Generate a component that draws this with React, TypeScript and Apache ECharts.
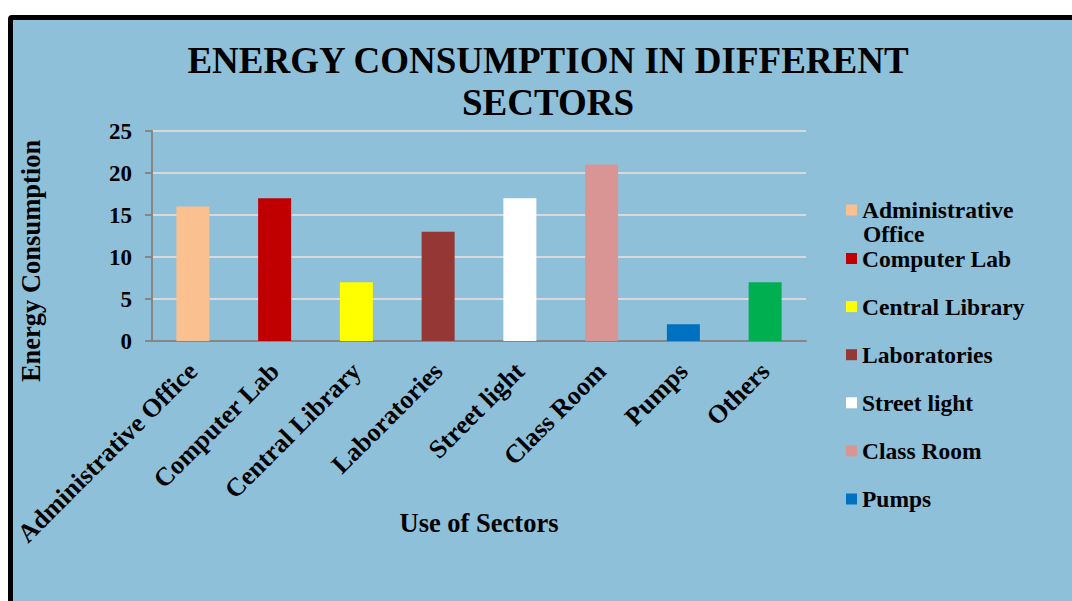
import React, { useEffect, useRef } from "react";
import * as echarts from "echarts";

const TITLE = "ENERGY CONSUMPTION IN DIFFERENT\nSECTORS";
const CATEGORIES = [
  "Administrative Office",
  "Computer Lab",
  "Central Library",
  "Laboratories",
  "Street light",
  "Class Room",
  "Pumps",
  "Others",
];
const VALUES = [16, 17, 7, 13, 17, 21, 2, 7];
const COLORS = ["#FAC090", "#C00000", "#FFFF00", "#953735", "#FFFFFF", "#D99594", "#0070C0", "#00B050"];
const LEGEND_NAMES = CATEGORIES.slice(0, 7);
const Y_MIN = 0;
const Y_MAX = 25;
const Y_STEP = 5;
const X_NAME = "Use of Sectors";
const Y_NAME = "Energy Consumption";

const FONT = "'Liberation Serif', 'Times New Roman', serif";

export default function App() {
  const ref = useRef<HTMLDivElement>(null);
  useEffect(() => {
    if (!ref.current) return;
    const chart = echarts.init(ref.current, undefined, { renderer: "svg" });
    const series = CATEGORIES.map((name, i) => ({
      name,
      type: "bar",
      stack: "all",
      barWidth: 33,
      itemStyle: { color: COLORS[i] },
      data: CATEGORIES.map((_, j) => (j === i ? VALUES[i] : "-")),
    }));
    const legendText = { fontFamily: FONT, fontWeight: "bold", fontSize: 23.5, lineHeight: 20, color: "#000" };
    chart.setOption({
      animation: false,
      legend: [
        {
          data: [LEGEND_NAMES[0]],
          orient: "vertical",
          left: 846,
          top: 198,
          padding: 0,
          itemWidth: 11,
          itemHeight: 11,
          selectedMode: false,
          icon: "rect",
          formatter: () => "Administrative",
          textStyle: legendText,
        },
        {
          data: LEGEND_NAMES.slice(1),
          orient: "vertical",
          left: 846,
          top: 246.5,
          padding: 0,
          itemGap: 24.1,
          itemWidth: 11,
          itemHeight: 11,
          selectedMode: false,
          icon: "rect",
          textStyle: legendText,
        },
      ],
      graphic: [
        {
          type: "text",
          x: 548,
          y: 39,
          style: {
            text: TITLE,
            font: `bold 37px ${FONT}`,
            lineHeight: 42,
            fill: "#000",
            align: "center",
            verticalAlign: "top",
          },
          z: 10,
        },
        {
          type: "text",
          x: 863,
          y: 234,
          style: {
            text: "Office",
            font: `bold 23.5px ${FONT}`,
            fill: "#000",
            verticalAlign: "middle",
            align: "left",
          },
        },
      ],
      grid: { left: 152, top: 131, right: 266, bottom: 260, containLabel: false },
      xAxis: {
        type: "category",
        data: CATEGORIES,
        name: X_NAME,
        nameLocation: "middle",
        nameGap: 168,
        nameMoveOverlap: false,
        nameTextStyle: { fontFamily: FONT, fontWeight: "bold", fontSize: 26.5, color: "#000" },
        axisLine: { show: true, lineStyle: { color: "#868686", width: 2 } },
        axisTick: { show: false },
        axisLabel: {
          interval: 0,
          rotate: 45,
          margin: 26,
          fontFamily: FONT,
          fontWeight: "bold",
          fontSize: 26,
          color: "#000",
        },
      },
      yAxis: {
        type: "value",
        min: Y_MIN,
        max: Y_MAX,
        interval: Y_STEP,
        name: Y_NAME,
        nameLocation: "middle",
        nameGap: 108,
        nameTextStyle: {
          fontFamily: FONT,
          fontWeight: "bold",
          fontSize: 26.5,
          color: "#000",
          padding: [0, 50, 0, 0],
        },
        axisLine: { show: true, lineStyle: { color: "#868686", width: 2 } },
        axisTick: { show: true, length: 7, lineStyle: { color: "#868686", width: 2 } },
        splitLine: { show: true, lineStyle: { color: "#D9D9D9", width: 2 } },
        axisLabel: {
          margin: 20,
          fontFamily: FONT,
          fontWeight: "bold",
          fontSize: 23,
          color: "#000",
        },
      },
      series,
    });
    return () => chart.dispose();
  }, []);

  return (
    <div style={{ position: "fixed", left: 0, top: 0, width: 1072, height: 601, overflow: "hidden", background: "#fff" }}>
      <div
        style={{
          position: "absolute",
          left: 8,
          top: 15,
          width: 1100,
          height: 700,
          background: "#8EC0DA",
          border: "5px solid #000",
          borderRadius: 4,
        }}
      />
      <div ref={ref} style={{ position: "absolute", left: 0, top: 0, width: 1072, height: 601 }} />
    </div>
  );
}
